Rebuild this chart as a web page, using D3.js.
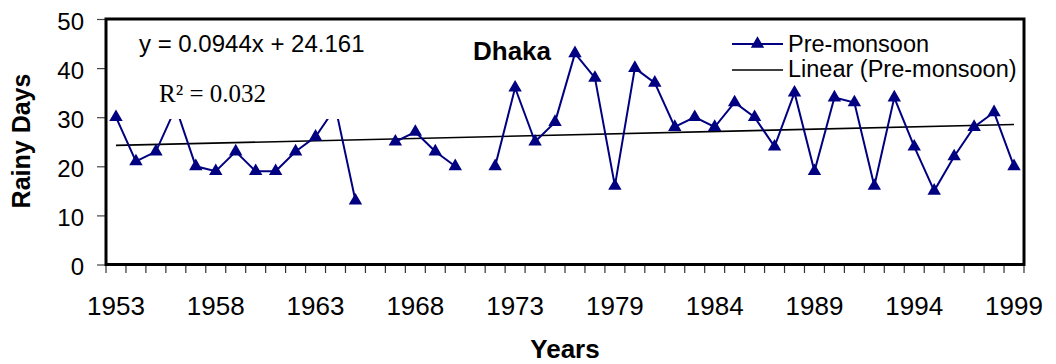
<!DOCTYPE html>
<html>
<head>
<meta charset="utf-8">
<script src="https://cdn.jsdelivr.net/npm/d3@7"></script>
<style>
  html, body { margin: 0; padding: 0; background: #fff; }
  svg { display: block; }
  text { font-family: "Liberation Sans", Arial, sans-serif; fill: #000; }
</style>
</head>
<body>
<svg id="chart" width="1056" height="364"></svg>
<script>
// Pre-monsoon rainy days at Dhaka (1978 not in the record; null = no observation)
const years = [1953,1954,1955,1956,1957,1958,1959,1960,1961,1962,1963,1964,1965,1966,1967,1968,1969,1970,1971,1972,1973,1974,1975,1976,1977,
               1979,1980,1981,1982,1983,1984,1985,1986,1987,1988,1989,1990,1991,1992,1993,1994,1995,1996,1997,1998,1999];
const preMonsoon = [30,21,23,32,20,19,23,19,19,23,26,32,13,null,25,27,23,20,null,20,36,25,29,43,38,
                    16,40,37,28,30,28,33,30,24,35,19,34,33,16,34,24,15,22,28,31,20];
const xTickLabels = [1953,1958,1963,1968,1973,1979,1984,1989,1994,1999];
const yTicks = [0,10,20,30,40,50];
// Linear trend fitted over the series index (1..n)
const trendSlope = 0.0944;
const trendIntercept = 24.161;
const trendEquation = "y = 0.0944x + 24.161";
const trendR2 = "R\u00B2 = 0.032";
const title = "Dhaka";
const legendLabels = ["Pre-monsoon", "Linear (Pre-monsoon)"];

const svg = d3.select("#chart");
const plotLeft = 106, plotRight = 1024, plotTop = 19, plotBottom = 264.5;
const navy = "#000080";

const x = d3.scaleBand().domain(years).range([plotLeft, plotRight]).padding(0);
const cx = yr => x(yr) + x.bandwidth() / 2;
const y = d3.scaleLinear().domain([0, 50]).range([plotBottom, plotTop]);

// y axis ticks and labels
const yAxis = d3.axisLeft(y).tickValues(yTicks).tickSize(8).tickPadding(13);
const gy = svg.append("g").attr("transform", `translate(${plotLeft - 1},0)`).call(yAxis);
gy.select(".domain").remove();
gy.selectAll(".tick line").attr("stroke", "#444").attr("stroke-width", 1.2);
gy.selectAll(".tick text").style("font-size", "24px").attr("dy", "0.42em")
  .style("font-family", "'Liberation Sans', Arial, sans-serif").attr("fill", "#000");

// x axis: tick marks at category boundaries
const gx = svg.append("g");
const edges = years.map(yr => x(yr)).concat([plotRight]);
gx.selectAll("line.xt").data(edges).join("line")
  .attr("x1", d => d).attr("x2", d => d)
  .attr("y1", plotBottom).attr("y2", plotBottom + 8.5)
  .attr("stroke", "#333").attr("stroke-width", 1.2);
gx.selectAll("text.xl").data(xTickLabels).join("text")
  .attr("x", d => cx(d)).attr("y", 315)
  .attr("text-anchor", "middle")
  .style("font-size", "26px")
  .text(d => d);

// trend line
const trendX = [1, years.length];
svg.append("line")
  .attr("x1", cx(years[trendX[0] - 1])).attr("y1", y(trendSlope * trendX[0] + trendIntercept))
  .attr("x2", cx(years[trendX[1] - 1])).attr("y2", y(trendSlope * trendX[1] + trendIntercept))
  .attr("stroke", "#000").attr("stroke-width", 1.6);

// data series
const series = years.map((yr, i) => ({ yr, v: preMonsoon[i] }));
const line = d3.line().defined(d => d.v != null).x(d => cx(d.yr)).y(d => y(d.v));
svg.append("path").datum(series).attr("d", line)
  .attr("fill", "none").attr("stroke", navy).attr("stroke-width", 2);

const tri = d3.symbol().type(d3.symbolTriangle).size(78);
svg.selectAll("path.mk").data(series.filter(d => d.v != null)).join("path")
  .attr("d", tri)
  .attr("transform", d => `translate(${cx(d.yr)},${y(d.v)})`)
  .attr("fill", navy);

// trendline label with white backing
svg.append("rect").attr("x", 132).attr("y", 27).attr("width", 240).attr("height", 92).attr("fill", "#fff");
svg.append("text").attr("x", 139).attr("y", 52).style("font-size", "24px").text(trendEquation);
svg.append("text").attr("x", 159).attr("y", 101.5)
  .style("font-family", "'Liberation Serif', 'Times New Roman', serif").style("font-size", "25px")
  .text(trendR2);

// title
svg.append("text").attr("x", 473).attr("y", 60).style("font-size", "26px").style("font-weight", "bold").text(title);

// legend
const lg = svg.append("g");
lg.append("line").attr("x1", 732).attr("x2", 783).attr("y1", 44).attr("y2", 44).attr("stroke", navy).attr("stroke-width", 2);
lg.append("path").attr("d", tri).attr("transform", "translate(757.5,44)").attr("fill", navy);
lg.append("line").attr("x1", 732).attr("x2", 783).attr("y1", 70).attr("y2", 70).attr("stroke", "#000").attr("stroke-width", 1.6);
lg.selectAll("text").data(legendLabels).join("text")
  .attr("x", 788).attr("y", (d, i) => 52 + i * 25)
  .style("font-size", "23.5px").text(d => d);

// plot frame
svg.append("rect").attr("x", plotLeft).attr("y", plotTop).attr("width", plotRight - plotLeft).attr("height", plotBottom - plotTop)
  .attr("fill", "none").attr("stroke", "#000").attr("stroke-width", 3);

// axis titles
svg.append("text").attr("transform", "translate(30,141) rotate(-90)").attr("text-anchor", "middle")
  .style("font-size", "25px").style("font-weight", "bold").text("Rainy Days");
svg.append("text").attr("x", 565).attr("y", 358).attr("text-anchor", "middle")
  .style("font-size", "26px").style("font-weight", "bold").text("Years");
</script>
</body>
</html>
